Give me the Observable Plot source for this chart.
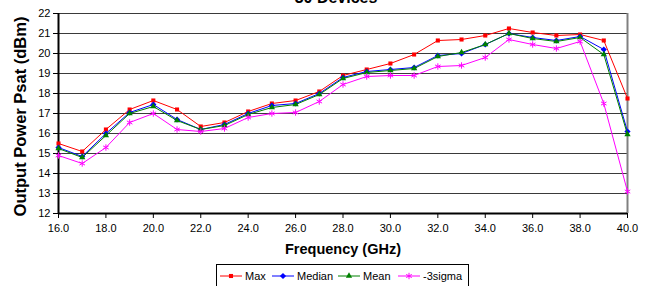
<!DOCTYPE html>
<html><head><meta charset="utf-8">
<script src="https://cdn.jsdelivr.net/npm/d3@7"></script>
<script src="https://cdn.jsdelivr.net/npm/@observablehq/plot@0.6"></script>
<style>
body{margin:0;background:#fff;font-family:"Liberation Sans",Arial,sans-serif;}
#wrap{position:relative;width:648px;height:286px;overflow:hidden;}
#title{position:absolute;left:336px;transform:translateX(-50%);top:-10.5px;font-weight:bold;font-size:16px;line-height:16px;white-space:nowrap;}
#legend{position:absolute;left:216px;top:264px;width:253px;height:24px;border:1px solid #000;box-sizing:border-box;font-size:11px;}
#legend .it{position:absolute;top:4px;height:14px;display:flex;align-items:center;white-space:nowrap;}
#legend svg{display:block;margin-right:3px;}
</style>
</head><body>
<div id="wrap"><div id="chart"></div><div id="title"></div><div id="legend"></div></div>
<script>
const titleText = "30 Devices";
const xLabel = "Frequency (GHz)";
const yLabel = "Output Power Psat (dBm)";
const freq = [16,17,18,19,20,21,22,23,24,25,26,27,28,29,30,31,32,33,34,35,36,37,38,39,40];
const maxV    = [15.5,15.1,16.2,17.2,17.65,17.2,16.35,16.55,17.1,17.5,17.65,18.1,18.9,19.2,19.5,19.95,20.65,20.7,20.9,21.25,21.05,20.9,20.95,20.65,17.75];
const medianV = [15.3,14.85,16.0,17.05,17.45,16.7,16.2,16.45,17.0,17.4,17.5,18.0,18.8,19.1,19.2,19.3,19.9,20.0,20.45,21.0,20.8,20.65,20.85,20.2,16.1];
const meanV   = [15.25,14.8,15.9,17.0,17.35,16.65,16.2,16.4,16.95,17.3,17.45,17.95,18.75,19.05,19.15,19.25,19.85,20.05,20.45,21.0,20.75,20.6,20.8,19.95,15.95];
const sigmaV  = [14.9,14.5,15.3,16.55,17.0,16.2,16.1,16.25,16.8,17.0,17.05,17.6,18.45,18.85,18.9,18.9,19.35,19.4,19.8,20.7,20.45,20.25,20.6,17.5,13.1];
const seriesNames = ["Max","Median","Mean","-3sigma"];
const xTicks = [16,18,20,22,24,26,28,30,32,34,36,38,40];
const yTicks = [12,13,14,15,16,17,18,19,20,21,22];

const series = [
  {name:seriesNames[0], values:maxV, color:"#FF0000", symbol:"square2", r:2.6, filled:true},
  {name:seriesNames[1], values:medianV, color:"#0000FF", symbol:"diamond2", r:2.8, filled:true},
  {name:seriesNames[2], values:meanV, color:"#008000", symbol:"triangle2", r:3, filled:true},
  {name:seriesNames[3], values:sigmaV, color:"#FF00FF", symbol:"asterisk", r:3, filled:false}
];
const data = series.flatMap(s => freq.map((f,i) => ({f, v:s.values[i], s:s.name})));

const seriesMarks = series.flatMap(s => {
  const d = data.filter(e => e.s === s.name);
  return [
    Plot.line(d, {x:"f", y:"v", stroke:s.color, strokeWidth:1}),
    s.filled
      ? Plot.dot(d, {x:"f", y:"v", symbol:()=>s.symbol, r:s.r, fill:s.color, stroke:"none"})
      : Plot.dot(d, {x:"f", y:"v", symbol:()=>s.symbol, r:s.r, stroke:s.color, strokeWidth:1, fill:"none"})
  ];
});

const chart = Plot.plot({
  width:648, height:286,
  marginLeft:58, marginRight:21, marginTop:13, marginBottom:73,
  style:{fontFamily:"'Liberation Sans', Arial, sans-serif", fontSize:"11px", background:"transparent", color:"#000", overflow:"visible"},
  x:{domain:[16,40]},
  y:{domain:[12,22]},
  symbol:{type:"identity"},
  marks:[
    Plot.ruleY(yTicks, {stroke:"#3a3a3a", strokeWidth:1}),
    Plot.ruleX([40], {stroke:"#808080", strokeWidth:2}),
    Plot.axisY({ticks:yTicks, tickSize:5, tickPadding:3, tickFormat:d=>String(d), label:null, stroke:"#000", fill:"#000"}),
    Plot.axisX({ticks:xTicks, tickSize:5, tickPadding:6, tickFormat:d3.format(".1f"), label:null, stroke:"#000", fill:"#000"}),
    Plot.ruleX([16], {stroke:"#000", strokeWidth:2}),
    Plot.ruleY([12], {stroke:"#000", strokeWidth:2}),
    ...seriesMarks,
    Plot.text([yLabel], {frameAnchor:"left", textAnchor:"middle", rotate:-90, dx:-38, dy:3, fontWeight:"bold", fontSize:16.5, fill:"#000"}),
    Plot.text([xLabel], {frameAnchor:"bottom", dy:40, fontWeight:"bold", fontSize:14.5, fill:"#000"})
  ]
});
document.getElementById("chart").appendChild(chart);
document.getElementById("title").textContent = titleText;

// legend
const legend = document.getElementById("legend");
const lefts = [3, 55, 121, 181];
const symMap = {square2:d3.symbolSquare2, diamond2:d3.symbolDiamond2, triangle2:d3.symbolTriangle2, asterisk:d3.symbolAsterisk};
series.forEach((s, i) => {
  const it = document.createElement("div");
  it.className = "it";
  it.style.left = lefts[i] + "px";
  const ns = "http://www.w3.org/2000/svg";
  const svg = document.createElementNS(ns, "svg");
  svg.setAttribute("width", 22); svg.setAttribute("height", 10);
  const ln = document.createElementNS(ns, "line");
  ln.setAttribute("x1", 0); ln.setAttribute("x2", 22); ln.setAttribute("y1", 5); ln.setAttribute("y2", 5);
  ln.setAttribute("stroke", s.color); ln.setAttribute("stroke-width", 1);
  svg.appendChild(ln);
  const sym = d3.symbol(symMap[s.symbol], Math.PI * s.r * s.r)();
  const p = document.createElementNS(ns, "path");
  p.setAttribute("d", sym); p.setAttribute("transform", "translate(11,5)");
  if (s.filled) { p.setAttribute("fill", s.color); } else { p.setAttribute("fill", "none"); p.setAttribute("stroke", s.color); }
  svg.appendChild(p);
  it.appendChild(svg);
  const t = document.createElement("span");
  t.textContent = s.name;
  it.appendChild(t);
  legend.appendChild(it);
});
</script>
</body></html>
